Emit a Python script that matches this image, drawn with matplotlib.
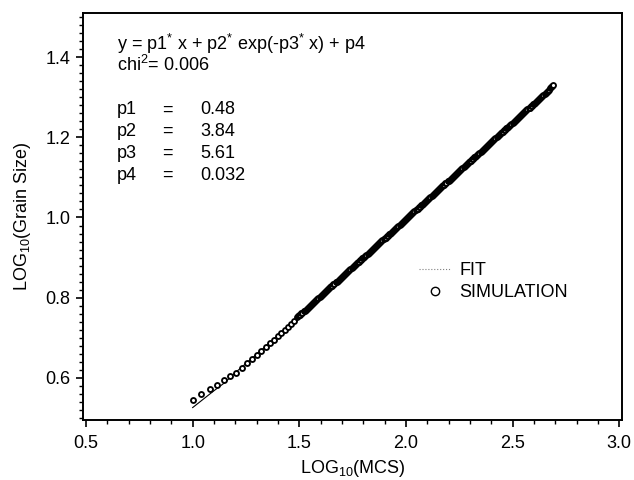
import matplotlib
matplotlib.use("Agg")
import matplotlib.pyplot as plt
from matplotlib.lines import Line2D
import numpy as np

plt.rcParams['font.family'] = ['Liberation Sans', 'DejaVu Sans']
plt.rcParams['mathtext.default'] = 'regular'
plt.rcParams['mathtext.fontset'] = 'custom'
plt.rcParams['mathtext.rm'] = 'Liberation Sans'

# ---- data ----
sim_x_early = [1.000, 1.041, 1.079, 1.114, 1.146, 1.176, 1.204, 1.230, 1.255, 1.279,
               1.301, 1.322, 1.342, 1.362, 1.380, 1.398, 1.415, 1.431, 1.447, 1.462, 1.477]
sim_y_early = [0.545, 0.560, 0.572, 0.583, 0.594, 0.604, 0.613, 0.624, 0.636, 0.647,
               0.657, 0.667, 0.677, 0.686, 0.695, 0.704, 0.712, 0.720, 0.728, 0.735, 0.742]

sim_x_late = [
    1.490, 1.495, 1.500, 1.505, 1.510, 1.515, 1.520, 1.525, 1.530, 1.535,
    1.540, 1.545, 1.550, 1.555, 1.560, 1.565, 1.570, 1.575, 1.580, 1.585,
    1.590, 1.595, 1.600, 1.605, 1.610, 1.615, 1.620, 1.625, 1.630, 1.635,
    1.640, 1.645, 1.650, 1.655, 1.660, 1.665, 1.670, 1.675, 1.680, 1.685,
    1.690, 1.695, 1.700, 1.705, 1.710, 1.715, 1.720, 1.725, 1.730, 1.735,
    1.740, 1.745, 1.750, 1.755, 1.760, 1.765, 1.770, 1.775, 1.780, 1.785,
    1.790, 1.795, 1.800, 1.805, 1.810, 1.815, 1.820, 1.825, 1.830, 1.835,
    1.840, 1.845, 1.850, 1.855, 1.860, 1.865, 1.870, 1.875, 1.880, 1.885,
    1.890, 1.895, 1.900, 1.905, 1.910, 1.915, 1.920, 1.925, 1.930, 1.935,
    1.940, 1.945, 1.950, 1.955, 1.960, 1.965, 1.970, 1.975, 1.980, 1.985,
    1.990, 1.995, 2.000, 2.005, 2.010, 2.015, 2.020, 2.025, 2.030, 2.035,
    2.040, 2.045, 2.050, 2.055, 2.060, 2.065, 2.070, 2.075, 2.080, 2.085,
    2.090, 2.095, 2.100, 2.105, 2.110, 2.115, 2.120, 2.125, 2.130, 2.135,
    2.140, 2.145, 2.150, 2.155, 2.160, 2.165, 2.170, 2.175, 2.180, 2.185,
    2.190, 2.195, 2.200, 2.205, 2.210, 2.215, 2.220, 2.225, 2.230, 2.235,
    2.240, 2.245, 2.250, 2.255, 2.260, 2.265, 2.270, 2.275, 2.280, 2.285,
    2.290, 2.295, 2.300, 2.305, 2.310, 2.315, 2.320, 2.325, 2.330, 2.335,
    2.340, 2.345, 2.350, 2.355, 2.360, 2.365, 2.370, 2.375, 2.380, 2.385,
    2.390, 2.395, 2.400, 2.405, 2.410, 2.415, 2.420, 2.425, 2.430, 2.435,
    2.440, 2.445, 2.450, 2.455, 2.460, 2.465, 2.470, 2.475, 2.480, 2.485,
    2.490, 2.495, 2.500, 2.505, 2.510, 2.515, 2.520, 2.525, 2.530, 2.535,
    2.540, 2.545, 2.550, 2.555, 2.560, 2.565, 2.570, 2.575, 2.580, 2.585,
    2.590, 2.595, 2.600, 2.605, 2.610, 2.615, 2.620, 2.625, 2.630, 2.635,
    2.640, 2.645, 2.650, 2.655, 2.660, 2.665, 2.670, 2.675, 2.680, 2.685,
    2.690]
sim_y_late = [
    0.751, 0.754, 0.756, 0.758, 0.761, 0.763, 0.766, 0.768, 0.770, 0.773,
    0.775, 0.778, 0.780, 0.782, 0.785, 0.787, 0.790, 0.792, 0.794, 0.797,
    0.799, 0.802, 0.804, 0.806, 0.809, 0.811, 0.814, 0.816, 0.818, 0.821,
    0.823, 0.826, 0.828, 0.830, 0.833, 0.835, 0.838, 0.840, 0.842, 0.845,
    0.847, 0.850, 0.852, 0.854, 0.857, 0.859, 0.862, 0.864, 0.866, 0.869,
    0.871, 0.874, 0.876, 0.878, 0.881, 0.883, 0.886, 0.888, 0.890, 0.893,
    0.895, 0.898, 0.900, 0.902, 0.905, 0.907, 0.910, 0.912, 0.914, 0.917,
    0.919, 0.922, 0.924, 0.926, 0.929, 0.931, 0.934, 0.936, 0.938, 0.941,
    0.943, 0.946, 0.948, 0.950, 0.953, 0.955, 0.958, 0.960, 0.962, 0.965,
    0.967, 0.970, 0.972, 0.974, 0.977, 0.979, 0.982, 0.984, 0.986, 0.989,
    0.991, 0.994, 0.996, 0.998, 1.001, 1.003, 1.006, 1.008, 1.010, 1.013,
    1.015, 1.018, 1.020, 1.022, 1.025, 1.027, 1.030, 1.032, 1.034, 1.037,
    1.039, 1.042, 1.044, 1.046, 1.049, 1.051, 1.054, 1.056, 1.058, 1.061,
    1.063, 1.066, 1.068, 1.070, 1.073, 1.075, 1.078, 1.080, 1.082, 1.085,
    1.087, 1.090, 1.092, 1.094, 1.097, 1.099, 1.102, 1.104, 1.106, 1.109,
    1.111, 1.114, 1.116, 1.118, 1.121, 1.123, 1.126, 1.128, 1.130, 1.133,
    1.135, 1.138, 1.140, 1.142, 1.145, 1.147, 1.150, 1.152, 1.154, 1.157,
    1.159, 1.162, 1.164, 1.166, 1.169, 1.171, 1.174, 1.176, 1.178, 1.181,
    1.183, 1.186, 1.188, 1.190, 1.193, 1.195, 1.198, 1.200, 1.202, 1.205,
    1.207, 1.210, 1.212, 1.214, 1.217, 1.219, 1.222, 1.224, 1.226, 1.229,
    1.231, 1.234, 1.236, 1.238, 1.241, 1.243, 1.246, 1.248, 1.250, 1.253,
    1.255, 1.258, 1.260, 1.262, 1.265, 1.267, 1.270, 1.272, 1.274, 1.277,
    1.279, 1.282, 1.284, 1.286, 1.289, 1.291, 1.294, 1.296, 1.298, 1.301,
    1.303, 1.306, 1.308, 1.310, 1.313, 1.316, 1.319, 1.322, 1.325, 1.328,
    1.331]

fit_x = [1.00, 1.05, 1.10, 1.15, 1.20, 1.25, 1.30, 1.40, 1.50, 1.75, 2.00, 2.25, 2.50, 2.69]
fit_y = [0.526, 0.547, 0.568, 0.588, 0.613, 0.636, 0.659, 0.706, 0.753, 0.872, 0.992, 1.112, 1.232, 1.323]

x_ticks = [0.5, 1.0, 1.5, 2.0, 2.5, 3.0]
y_ticks = [0.6, 0.8, 1.0, 1.2, 1.4]

param_names = ['p1', 'p2', 'p3', 'p4']
param_values = ['0.48', '3.84', '5.61', '0.032']
chi2 = '0.006'

FS = 13

# ---- figure ----
fig = plt.figure(figsize=(6.34, 4.8), dpi=100)
ax = fig.add_axes([0.131, 0.125, 0.850, 0.848])

sim_x = sim_x_early + sim_x_late
sim_y = sim_y_early + sim_y_late

ax.plot(fit_x, fit_y, color='black', lw=0.8, zorder=2)
ax.plot(sim_x, sim_y, linestyle='none', marker='o', ms=3.6, mfc='white',
        mec='black', mew=1.35, zorder=3)

ax.set_xlim(0.486, 3.013)
ax.set_ylim(0.495, 1.51)
ax.set_xticks(x_ticks)
ax.set_xticklabels([f'{v:.1f}' for v in x_ticks])
ax.set_yticks(y_ticks)
ax.set_yticklabels([f'{v:.1f}' for v in y_ticks])
ax.set_xticks(np.arange(0.5, 3.01, 0.1), minor=True)
ax.set_yticks(np.arange(0.50, 1.511, 0.02), minor=True)

for s in ax.spines.values():
    s.set_linewidth(1.4)
ax.tick_params(axis='x', which='major', direction='out', length=5, width=1.2,
               labelsize=FS, pad=6)
ax.tick_params(axis='y', which='major', direction='out', length=5, width=1.2,
               labelsize=FS, pad=4)
ax.tick_params(axis='both', which='minor', direction='out', length=3, width=1.0)

ax.set_xlabel('LOG$_{10}$(MCS)', fontsize=FS, labelpad=4)
ax.set_ylabel('LOG$_{10}$(Grain Size)', fontsize=FS, labelpad=9)

# annotation block
tx = 0.063
ax.text(tx, 0.909, 'y = p1$^{*}$ x + p2$^{*}$ exp(-p3$^{*}$ x) + p4', transform=ax.transAxes,
        fontsize=FS, va='baseline')
ax.text(tx, 0.858, 'chi$^{2}$= ' + chi2, transform=ax.transAxes, fontsize=FS, va='baseline')
row_y = [0.751, 0.698, 0.644, 0.590]
for name, val, yy in zip(param_names, param_values, row_y):
    ax.text(tx, yy, name, transform=ax.transAxes, fontsize=FS, va='baseline')
    ax.text(0.147, yy, '=', transform=ax.transAxes, fontsize=FS, va='baseline')
    ax.text(0.217, yy, val, transform=ax.transAxes, fontsize=FS, va='baseline')

handles = [Line2D([], [], color='gray', lw=0.8, linestyle=':'),
           Line2D([], [], linestyle='none', marker='o', ms=6, mfc='white', mec='black', mew=1.0)]
leg = ax.legend(handles, ['FIT', 'SIMULATION'], loc='upper left',
                bbox_to_anchor=(0.6, 0.418), frameon=False, fontsize=FS,
                handlelength=1.75, handletextpad=0.5, labelspacing=0.25, borderpad=0.2)

fig.savefig('out.png', dpi=100)
